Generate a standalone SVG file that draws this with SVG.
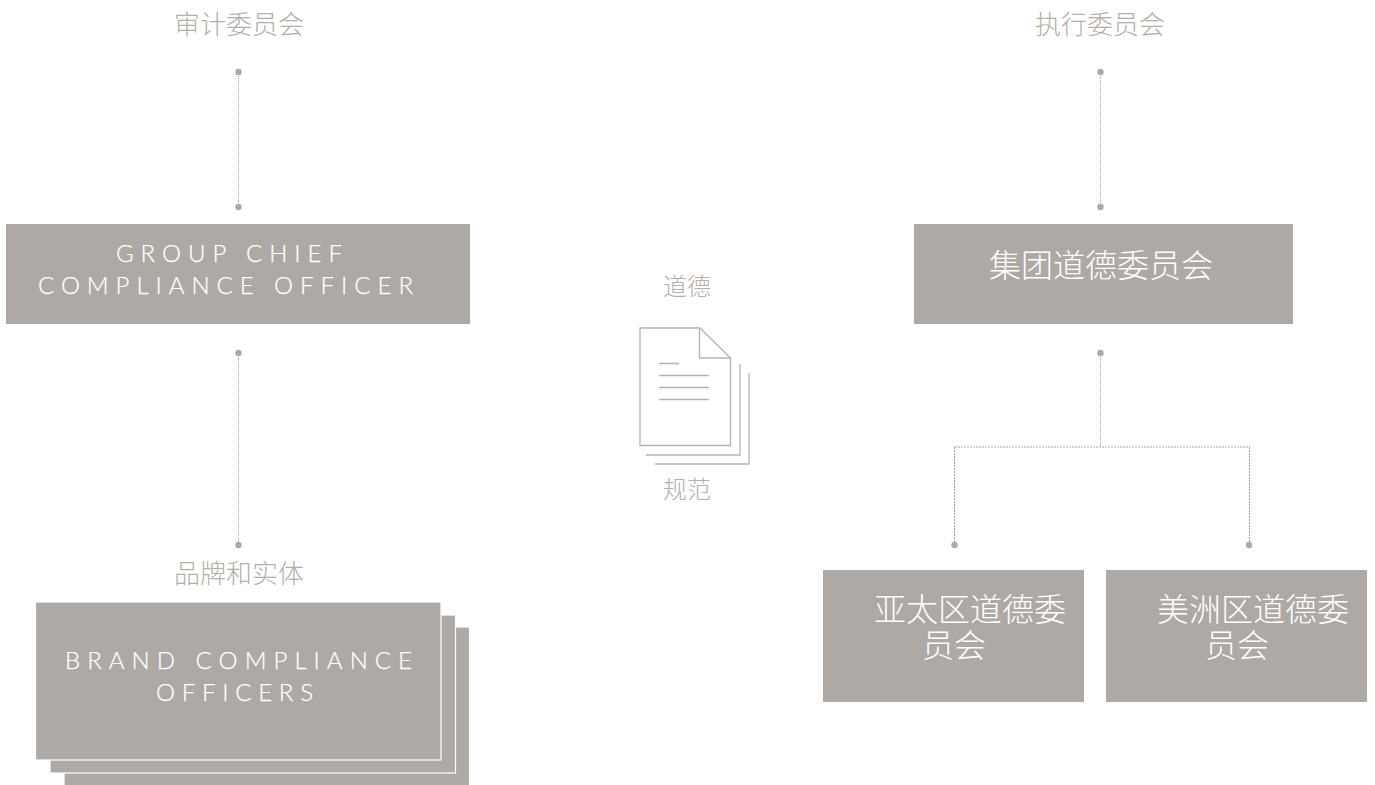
<svg xmlns="http://www.w3.org/2000/svg" width="1375" height="785" viewBox="0 0 1375 785">
<style>
.box{fill:#afa9a5}
.edge{stroke:#fff;stroke-width:1.2;fill:#afa9a5}
.lbl{font-family:"Noto Sans CJK SC","Liberation Sans",sans-serif;font-size:26px;font-weight:300;fill:#b5afab}
.lbs{font-family:"Noto Sans CJK SC","Liberation Sans",sans-serif;font-size:24px;font-weight:300;fill:#b5afab}
.cjk{font-family:"Noto Sans CJK SC","Liberation Sans",sans-serif;font-size:32px;font-weight:300;fill:#fff}
.lat{font-family:Lato,"Liberation Sans",sans-serif;font-size:24px;font-weight:300;fill:#fff;stroke:#fff;stroke-width:.25}
.dot{fill:#afa9a5}
.dash{stroke:#a8a29e;stroke-width:1;stroke-dasharray:1 1;fill:none}
.dash2{stroke:#a8a29e;stroke-width:1;stroke-dasharray:2 1;fill:none}
.doc{stroke:#b8b2ae;stroke-width:1.3;fill:none}
</style>
<rect width="1375" height="785" fill="#fff"/>
<g id="connectors">
<path class="dash" d="M238.500 72V207M238.500 353V545M1100.500 72V207M1100.500 353V447"/>
<path class="dash2" d="M955 447H1250M954.500 447V545M1249.500 447V545"/>
<circle class="dot" cx="238.500" cy="72" r="3.200"/><circle class="dot" cx="238.500" cy="207" r="3.200"/>
<circle class="dot" cx="238.500" cy="353" r="3.200"/><circle class="dot" cx="238.500" cy="545" r="3.200"/>
<circle class="dot" cx="1100.500" cy="72" r="3.200"/><circle class="dot" cx="1100.500" cy="207" r="3.200"/>
<circle class="dot" cx="1100.500" cy="353" r="3.200"/><circle class="dot" cx="954.500" cy="545" r="3.200"/>
<circle class="dot" cx="1249" cy="545" r="3.200"/>
</g>
<g id="audit-committee"><text class="lbl" x="174" y="33.500">审计委员会</text></g>
<g id="exec-committee"><text class="lbl" x="1035" y="33.500">执行委员会</text></g>
<g id="group-cco"><rect class="box" x="6" y="224" width="464" height="100"/>
<text class="lat" x="116" y="262" textLength="226">GROUP CHIEF</text>
<text class="lat" x="38" y="294" textLength="375">COMPLIANCE OFFICER</text></g>
<g id="group-ethics"><rect class="box" x="914" y="224" width="379" height="100"/>
<text class="cjk" x="989" y="277">集团道德委员会</text></g>
<g id="ethics-doc">
<text class="lbs" x="663" y="295">道德</text>
<path class="doc" d="M640 328H700L730.500 358V445.500H640Z"/>
<path class="doc" d="M699.500 328V358H730.500"/>
<path class="doc" d="M659 363.500H679M659 375.500H709M659 387.500H709M659 399.500H709"/>
<path class="doc" d="M740 364V455H646M749 373V464H655"/>
<text class="lbs" x="663" y="498">规范</text>
</g>
<g id="brand-label"><text class="lbl" x="174" y="582.500">品牌和实体</text></g>
<g id="brand-officers">
<rect class="edge" x="64" y="627" width="405.500" height="165"/>
<rect class="edge" x="50" y="615" width="405.500" height="158"/>
<rect class="edge" x="35.500" y="602" width="405.500" height="158"/>
<text class="lat" x="65" y="669" textLength="347">BRAND COMPLIANCE</text>
<text class="lat" x="156" y="701" textLength="157">OFFICERS</text>
</g>
<g id="apac-ethics"><rect class="box" x="823" y="570" width="261" height="132"/>
<text class="cjk" x="874" y="621">亚太区道德委</text><text class="cjk" x="922" y="657">员会</text></g>
<g id="americas-ethics"><rect class="box" x="1106" y="570" width="261" height="132"/>
<text class="cjk" x="1157" y="621">美洲区道德委</text><text class="cjk" x="1205" y="657">员会</text></g>
</svg>
